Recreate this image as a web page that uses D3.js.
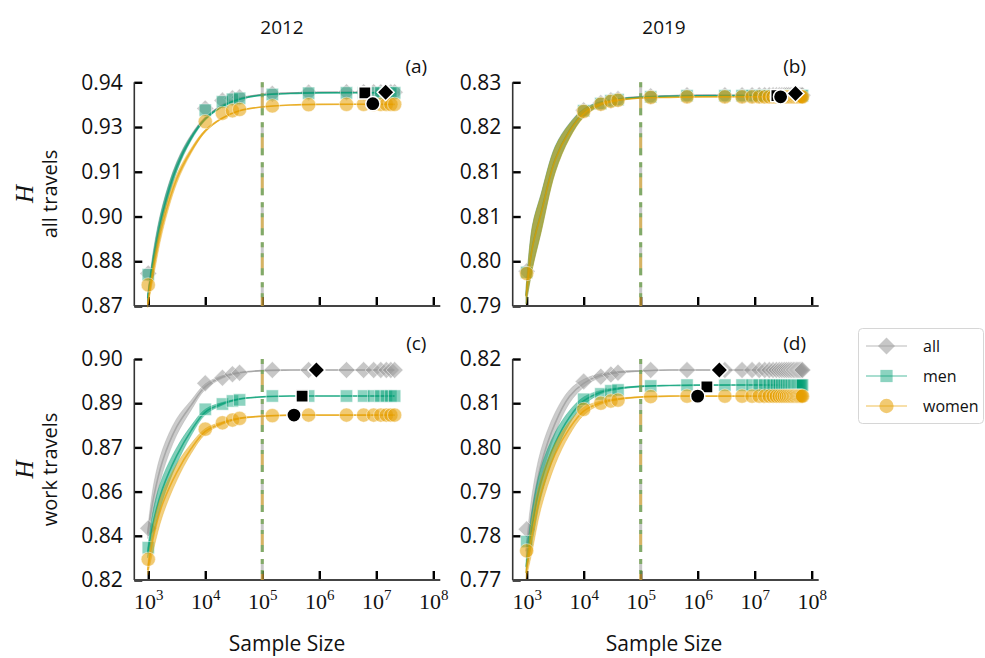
<!DOCTYPE html>
<html><head><meta charset="utf-8">
<script src="https://cdn.jsdelivr.net/npm/d3@7"></script>
<style>body{margin:0;background:#fff}svg{display:block}</style>
</head><body><svg id="c" width="985" height="658"></svg>
<script>
// ---------------- data ----------------
const YEARS = ["2012", "2019"];
const ROW_LABELS = ["all travels", "work travels"];
const PANEL_LABELS = ["(a)", "(b)", "(c)", "(d)"];
const SERIES = ["all", "men", "women"];
const X_TICKS = [1e3, 1e4, 1e5, 1e6, 1e7, 1e8];
const CUTOFF_N = 1e5;

const SIZES_2012 = [1000, 10000, 20000, 30000, 40000, 150000, 650000, 3000000, 6000000, 9000000, 12000000, 15000000, 18000000, 21000000];
const SIZES_2019 = [1000, 10000, 20000, 30000, 40000, 150000, 650000, 3000000, 6000000, 9000000, 12000000, 15000000, 18000000, 21000000, 24000000, 27000000, 30000000, 33000000, 36000000, 39000000, 42000000, 45000000, 48000000, 51000000, 54000000, 57000000, 60000000, 63000000, 66000000, 69000000];

// log10 sample sizes where the fitted curve was read
const CURVE_LOG_2012 = [2.99, 3.1, 3.25, 3.5, 3.75, 4.0, 4.3, 4.6, 5.0, 5.5, 6.0, 7.32];
const CURVE_LOG_2019 = [2.99, 3.1, 3.25, 3.5, 3.75, 4.0, 4.3, 4.6, 5.0, 5.5, 6.0, 7.84];

// y tick labels (ticks evenly spread over the y domain)
const YDOM_A = [0.87, 0.94],  YTICK_A = ["0.87", "0.88", "0.90", "0.91", "0.93", "0.94"];
const YDOM_B = [0.79, 0.83],  YTICK_B = ["0.79", "0.80", "0.81", "0.81", "0.82", "0.83"];
const YDOM_C = [0.824, 0.904], YTICK_C = ["0.82", "0.84", "0.86", "0.87", "0.89", "0.90"];
const YDOM_D = [0.77, 0.82],  YTICK_D = ["0.77", "0.78", "0.79", "0.80", "0.81", "0.82"];

// (a) 2012, all travels
const A_ALL   = [0.8802, 0.9318, 0.9343, 0.9350, 0.9353, 0.9364, 0.9368, 0.9369, 0.9369, 0.9369, 0.9369, 0.9369, 0.9369, 0.9369];
const A_MEN   = [0.8798, 0.9313, 0.9339, 0.9347, 0.9350, 0.9362, 0.9366, 0.9367, 0.9367, 0.9367, 0.9367, 0.9367, 0.9367, 0.9367];
const A_WOMEN = [0.8766, 0.9277, 0.9303, 0.9311, 0.9315, 0.9326, 0.9330, 0.9331, 0.9331, 0.9331, 0.9331, 0.9331, 0.9331, 0.9331];
const A_ALL_CURVE   = [0.8728, 0.8858, 0.8993, 0.9138, 0.9228, 0.9288, 0.9328, 0.9350, 0.9362, 0.9367, 0.9369, 0.9369];
const A_MEN_CURVE   = [0.8725, 0.8855, 0.8990, 0.9135, 0.9225, 0.9285, 0.9325, 0.9347, 0.9360, 0.9365, 0.9367, 0.9367];
const A_WOMEN_CURVE = [0.8705, 0.8825, 0.8955, 0.9098, 0.9185, 0.9248, 0.9288, 0.9311, 0.9323, 0.9329, 0.9331, 0.9331];
const A_BAND = [0.0010, 0.0026, 0.0022, 0.0014, 0.0008, 0.0004, 0.0002, 0.0001, 0.00005, 0, 0, 0];
const A_N_TOTAL = [14600000, 6300000, 8700000];
const A_H_TOTAL = [0.9369, 0.9367, 0.9333];

// (b) 2019, all travels
const B_ALL   = [0.7962, 0.8250, 0.8263, 0.8268, 0.8270, 0.8275, 0.8277, 0.8277, 0.8277, 0.8277, 0.8277, 0.8277, 0.8277, 0.8277, 0.8277, 0.8277, 0.8277, 0.8277, 0.8277, 0.8277, 0.8277, 0.8277, 0.8277, 0.8277, 0.8277, 0.8277, 0.8277, 0.8277, 0.8277, 0.8277];
const B_MEN   = [0.7960, 0.8249, 0.8262, 0.8267, 0.8269, 0.8274, 0.8276, 0.8276, 0.8276, 0.8276, 0.8276, 0.8276, 0.8276, 0.8276, 0.8276, 0.8276, 0.8276, 0.8276, 0.8276, 0.8276, 0.8276, 0.8276, 0.8276, 0.8276, 0.8276, 0.8276, 0.8276, 0.8276, 0.8276, 0.8276];
const B_WOMEN = [0.7958, 0.8248, 0.8261, 0.8266, 0.8268, 0.8273, 0.8274, 0.8274, 0.8274, 0.8274, 0.8274, 0.8274, 0.8274, 0.8274, 0.8274, 0.8274, 0.8274, 0.8274, 0.8274, 0.8274, 0.8274, 0.8274, 0.8274, 0.8274, 0.8274, 0.8274, 0.8274, 0.8274, 0.8274, 0.8274];
const B_ALL_CURVE   = [0.7919, 0.8006, 0.8066, 0.8163, 0.8214, 0.8246, 0.8263, 0.8270, 0.8274, 0.8276, 0.8277, 0.8277];
const B_MEN_CURVE   = [0.7918, 0.8005, 0.8065, 0.8162, 0.8213, 0.8245, 0.8262, 0.8269, 0.8273, 0.8275, 0.8276, 0.8276];
const B_WOMEN_CURVE = [0.7917, 0.8004, 0.8064, 0.8161, 0.8212, 0.8244, 0.8261, 0.8268, 0.8272, 0.8273, 0.8274, 0.8274];
const B_BAND = [0.0014, 0.0038, 0.0034, 0.0023, 0.0013, 0.0007, 0.0003, 0.00015, 0.00005, 0, 0, 0];
const B_N_TOTAL = [52000000, 24500000, 28500000];
const B_H_TOTAL = [0.8280, 0.8276, 0.8274];

// (c) 2012, work travels
const C_ALL   = [0.8427, 0.8952, 0.8972, 0.8985, 0.8990, 0.9000, 0.9000, 0.9000, 0.9000, 0.9000, 0.9000, 0.9000, 0.9000, 0.9000];
const C_MEN   = [0.8357, 0.8858, 0.8877, 0.8888, 0.8892, 0.8906, 0.8906, 0.8906, 0.8906, 0.8906, 0.8906, 0.8906, 0.8906, 0.8906];
const C_WOMEN = [0.8315, 0.8786, 0.8809, 0.8819, 0.8825, 0.8835, 0.8837, 0.8837, 0.8837, 0.8837, 0.8837, 0.8837, 0.8837, 0.8837];
const C_ALL_CURVE   = [0.8408, 0.8545, 0.8670, 0.8795, 0.8872, 0.8940, 0.8975, 0.8990, 0.8998, 0.9000, 0.9000, 0.9000];
const C_MEN_CURVE   = [0.8338, 0.8460, 0.8570, 0.8690, 0.8780, 0.8848, 0.8878, 0.8895, 0.8903, 0.8906, 0.8906, 0.8906];
const C_WOMEN_CURVE = [0.8276, 0.8405, 0.8515, 0.8630, 0.8715, 0.8778, 0.8808, 0.8825, 0.8833, 0.8837, 0.8837, 0.8837];
const C_BAND = [0.0018, 0.0048, 0.0043, 0.0030, 0.0018, 0.0010, 0.0005, 0.0002, 0.0001, 0, 0, 0];
const C_N_TOTAL = [890000, 500000, 360000];
const C_H_TOTAL = [0.9000, 0.8906, 0.8837];

// (d) 2019, work travels
const D_ALL   = [0.7815, 0.8149, 0.8160, 0.8165, 0.8169, 0.8175, 0.8175, 0.8175, 0.8175, 0.8175, 0.8175, 0.8175, 0.8175, 0.8175, 0.8175, 0.8175, 0.8175, 0.8175, 0.8175, 0.8175, 0.8175, 0.8175, 0.8175, 0.8175, 0.8175, 0.8175, 0.8175, 0.8175, 0.8175, 0.8175];
const D_MEN   = [0.7787, 0.8109, 0.8121, 0.8128, 0.8130, 0.8139, 0.8141, 0.8141, 0.8141, 0.8141, 0.8141, 0.8141, 0.8141, 0.8141, 0.8141, 0.8141, 0.8141, 0.8141, 0.8141, 0.8141, 0.8141, 0.8141, 0.8141, 0.8141, 0.8141, 0.8141, 0.8141, 0.8141, 0.8141, 0.8141];
const D_WOMEN = [0.7766, 0.8086, 0.8100, 0.8105, 0.8107, 0.8115, 0.8116, 0.8116, 0.8116, 0.8116, 0.8116, 0.8116, 0.8116, 0.8116, 0.8116, 0.8116, 0.8116, 0.8116, 0.8116, 0.8116, 0.8116, 0.8116, 0.8116, 0.8116, 0.8116, 0.8116, 0.8116, 0.8116, 0.8116, 0.8116];
const D_ALL_CURVE   = [0.7765, 0.7860, 0.7960, 0.8055, 0.8115, 0.8145, 0.8163, 0.8170, 0.8173, 0.8175, 0.8175, 0.8175];
const D_MEN_CURVE   = [0.7730, 0.7825, 0.7920, 0.8010, 0.8068, 0.8105, 0.8125, 0.8133, 0.8138, 0.8140, 0.8141, 0.8141];
const D_WOMEN_CURVE = [0.7716, 0.7805, 0.7895, 0.7985, 0.8043, 0.8082, 0.8101, 0.8109, 0.8114, 0.8116, 0.8116, 0.8116];
const D_BAND = [0.0014, 0.0038, 0.0034, 0.0024, 0.0015, 0.0009, 0.0004, 0.0002, 0.0001, 0, 0, 0];
const D_N_TOTAL = [2400000, 1450000, 1000000];
const D_H_TOTAL = [0.8175, 0.8137, 0.8116];

// ---------------- style ----------------
const COLOR = {all: "#999999", men: "#009E73", women: "#E69F00"};
const SANS = "'Open Sans', 'Noto Sans', sans-serif";
const SERIF = "'Liberation Serif', 'DejaVu Serif', serif";

const svg = d3.select("#c");
svg.append("rect").attr("width", 985).attr("height", 658).attr("fill", "#fff");

const COLS = [[134.3, 440.3], [512.7, 818.7]];
const ROWS = [[306, 82.3], [580, 359]];
const XDOM = [Math.pow(10, 2.755), Math.pow(10, 8.123)];

const panels = [
  {r:0, c:0, lab:PANEL_LABELS[0], ydom:YDOM_A, yt:YTICK_A, sizes:SIZES_2012, clog:CURVE_LOG_2012,
   pts:{all:A_ALL, men:A_MEN, women:A_WOMEN}, cur:{all:A_ALL_CURVE, men:A_MEN_CURVE, women:A_WOMEN_CURVE}, band:A_BAND, nt:A_N_TOTAL, ht:A_H_TOTAL},
  {r:0, c:1, lab:PANEL_LABELS[1], ydom:YDOM_B, yt:YTICK_B, sizes:SIZES_2019, clog:CURVE_LOG_2019,
   pts:{all:B_ALL, men:B_MEN, women:B_WOMEN}, cur:{all:B_ALL_CURVE, men:B_MEN_CURVE, women:B_WOMEN_CURVE}, band:B_BAND, nt:B_N_TOTAL, ht:B_H_TOTAL},
  {r:1, c:0, lab:PANEL_LABELS[2], ydom:YDOM_C, yt:YTICK_C, sizes:SIZES_2012, clog:CURVE_LOG_2012,
   pts:{all:C_ALL, men:C_MEN, women:C_WOMEN}, cur:{all:C_ALL_CURVE, men:C_MEN_CURVE, women:C_WOMEN_CURVE}, band:C_BAND, nt:C_N_TOTAL, ht:C_H_TOTAL},
  {r:1, c:1, lab:PANEL_LABELS[3], ydom:YDOM_D, yt:YTICK_D, sizes:SIZES_2019, clog:CURVE_LOG_2019,
   pts:{all:D_ALL, men:D_MEN, women:D_WOMEN}, cur:{all:D_ALL_CURVE, men:D_MEN_CURVE, women:D_WOMEN_CURVE}, band:D_BAND, nt:D_N_TOTAL, ht:D_H_TOTAL}
];

const SYM = {
  all:   d3.symbol().type(d3.symbolSquare).size(145),
  men:   d3.symbol().type(d3.symbolSquare).size(150),
  women: d3.symbol().type(d3.symbolCircle).size(160)
};
const ROT = {all: 45, men: 0, women: 0};
const SMOOTH = d3.curveCatmullRom.alpha(0.5);

panels.forEach(p => {
  const x = d3.scaleLog().domain(XDOM).range(COLS[p.c]);
  const y = d3.scaleLinear().domain(p.ydom).range(ROWS[p.r]);
  const g = svg.append("g");

  // y axis
  const yvals = d3.range(6).map(i => p.ydom[0] + i * (p.ydom[1] - p.ydom[0]) / 5);
  const ya = g.append("g").attr("transform", `translate(${COLS[p.c][0]},0)`)
    .call(d3.axisLeft(y).tickValues(yvals).tickFormat((d, i) => p.yt[i]).tickSizeInner(-8).tickSizeOuter(0).tickPadding(11.5));
  ya.select(".domain").remove();
  ya.selectAll(".tick line").attr("stroke", "#000").attr("stroke-width", 2.4);
  ya.selectAll(".tick text").attr("font-family", SANS).attr("font-size", 21).attr("fill", "#111");

  // x axis
  const xa = g.append("g").attr("transform", `translate(0,${ROWS[p.r][0]})`)
    .call(d3.axisBottom(x).tickValues(X_TICKS).tickFormat("").tickSizeInner(-9).tickSizeOuter(0));
  xa.select(".domain").remove();
  xa.selectAll(".tick line").attr("stroke", "#000").attr("stroke-width", 2.4);
  if (p.r === 1) {
    xa.selectAll(".tick").each(function(d) {
      const t = d3.select(this).append("text").attr("y", 29).attr("text-anchor", "middle")
        .attr("font-family", SERIF).attr("font-size", 22).attr("fill", "#111");
      t.append("tspan").text("10");
      t.append("tspan").attr("dy", -9).attr("font-size", 15).text(Math.round(Math.log10(d)));
    });
  }

  // spines
  g.append("line").attr("x1", COLS[p.c][0]).attr("x2", COLS[p.c][0]).attr("y1", ROWS[p.r][1]).attr("y2", ROWS[p.r][0])
    .attr("stroke", "#333").attr("stroke-width", 1.6);
  g.append("line").attr("x1", COLS[p.c][0]).attr("x2", COLS[p.c][1]).attr("y1", ROWS[p.r][0]).attr("y2", ROWS[p.r][0])
    .attr("stroke", "#444").attr("stroke-width", 1.8);

  // series
  SERIES.forEach(s => {
    const cd = p.clog.map((lg, i) => ({n: Math.pow(10, lg), v: p.cur[s][i], w: p.band[i]}));
    g.append("path").datum(cd)
      .attr("d", d3.area().x(d => x(d.n)).y0(d => y(d.v - d.w)).y1(d => y(d.v + d.w)).curve(SMOOTH))
      .attr("fill", COLOR[s]).attr("fill-opacity", 0.5).attr("stroke", COLOR[s]).attr("stroke-opacity", 0.3).attr("stroke-width", 1);
    g.append("path").datum(cd)
      .attr("d", d3.line().x(d => x(d.n)).y(d => y(d.v)).curve(SMOOTH))
      .attr("fill", "none").attr("stroke", COLOR[s]).attr("stroke-opacity", 0.7).attr("stroke-width", 1.6);
    const pd = p.sizes.map((n, i) => ({n, v: p.pts[s][i]}));
    g.append("g").selectAll("path").data(pd).join("path")
      .attr("d", SYM[s])
      .attr("transform", d => `translate(${x(d.n)},${y(d.v)}) rotate(${ROT[s]})`)
      .attr("fill", COLOR[s]).attr("fill-opacity", s === "men" ? 0.45 : 0.55)
      .attr("stroke", "#fff").attr("stroke-opacity", 0.6).attr("stroke-width", 0.8);
  });

  // cutoff line (three overlapping dashed lines)
  const xc = x(CUTOFF_N);
  const vl = (col, dash, op) => g.append("line").attr("x1", xc).attr("x2", xc)
    .attr("y1", ROWS[p.r][1]).attr("y2", ROWS[p.r][0])
    .attr("stroke", col).attr("stroke-width", 3).attr("stroke-opacity", op).attr("stroke-dasharray", dash);
  vl(COLOR.all, "33 7", 0.55);
  vl(COLOR.women, "5 6 22 7", 0.5);
  vl(COLOR.men, "5 6 4 11 7 7", 0.4);

  // totals (black markers)
  ["men", "women", "all"].forEach(s => {
    const i = SERIES.indexOf(s);
    g.append("path").attr("d", SYM[s])
      .attr("transform", `translate(${x(p.nt[i])},${y(p.ht[i])}) rotate(${ROT[s]})`)
      .attr("fill", "#000").attr("stroke", "#fff").attr("stroke-width", 1.5);
  });

  // panel label
  g.append("text").attr("x", COLS[p.c][0] + 282).attr("y", p.r === 0 ? 73 : 350).attr("text-anchor", "middle")
    .attr("font-family", SANS).attr("font-size", 19).attr("fill", "#111").text(p.lab);
});

// column titles
[282, 664].forEach((cx, i) => svg.append("text").attr("x", cx).attr("y", 34).attr("text-anchor", "middle")
  .attr("font-family", SANS).attr("font-size", 19).attr("fill", "#111").text(YEARS[i]));

// x labels
[287, 664].forEach(cx => svg.append("text").attr("x", cx).attr("y", 651).attr("text-anchor", "middle")
  .attr("font-family", SANS).attr("font-size", 21).attr("fill", "#111").text("Sample Size"));

// row labels
[194, 469.5].forEach((cy, i) => {
  const t = svg.append("g").attr("transform", `translate(0,${cy}) rotate(-90)`);
  t.append("text").attr("x", 0).attr("y", 33).attr("text-anchor", "middle")
    .attr("font-family", SERIF).attr("font-style", "italic").attr("font-size", 25).attr("fill", "#111").text("H");
  t.append("text").attr("x", 0).attr("y", 57).attr("text-anchor", "middle")
    .attr("font-family", SANS).attr("font-size", 20).attr("fill", "#111").text(ROW_LABELS[i]);
});

// legend
const lg = svg.append("g");
lg.append("rect").attr("x", 858.5).attr("y", 328.5).attr("width", 125).attr("height", 95).attr("rx", 4)
  .attr("fill", "#fff").attr("stroke", "#d6d6d6").attr("stroke-width", 1);
SERIES.forEach((s, i) => {
  const cy = 346 + i * 30;
  lg.append("line").attr("x1", 866).attr("x2", 907).attr("y1", cy).attr("y2", cy)
    .attr("stroke", COLOR[s]).attr("stroke-opacity", 0.45).attr("stroke-width", 1.6);
  lg.append("path").attr("d", SYM[s]).attr("transform", `translate(886.5,${cy}) rotate(${ROT[s]})`)
    .attr("fill", COLOR[s]).attr("fill-opacity", s === "men" ? 0.45 : 0.55);
  lg.append("text").attr("x", 923).attr("y", cy).attr("dy", "0.35em")
    .attr("font-family", SANS).attr("font-size", 16).attr("fill", "#111").text(s);
});
</script>
</body></html>
